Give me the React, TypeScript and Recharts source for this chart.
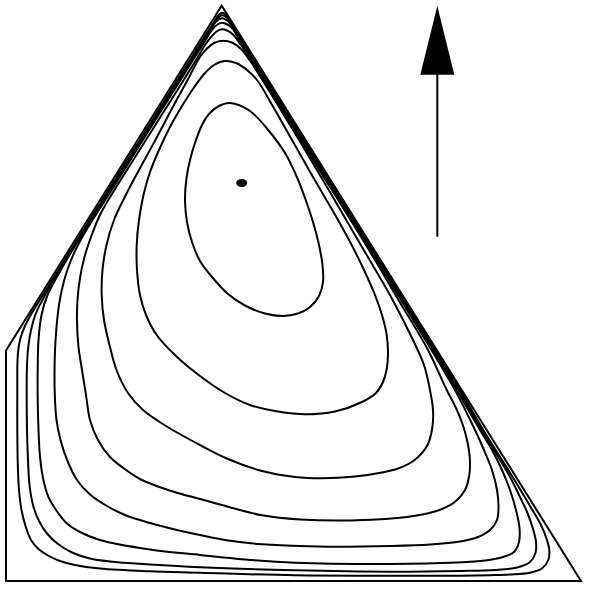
import React from 'react';
import { ComposedChart, Line, Area, Scatter, XAxis, YAxis } from 'recharts';

// Coordinates are in the plot's own units: x to the right, y upward, frame 0..576.
const boundary = [[0, 230.5], [215.7, 575.3], [575, 0], [0, 0]];

const contour1 = [
  [224, 478], [244, 470], [263, 450], [279, 428], [290, 406], [299, 383], [307, 359], [313, 336],
  [316.5, 316], [317, 299], [313, 285], [304, 274], [292, 267.5], [277, 265], [259, 267.5], [239, 275.5],
  [222, 287], [206, 304], [194, 320], [186, 339], [181, 359], [179, 381], [180.5, 403], [184.5, 423],
  [190, 441], [196, 456], [203, 467], [212, 474.5],
];

const contour2 = [
  [218.3, 520], [230, 518], [241, 511], [251, 501], [269, 471], [286, 441], [303, 411], [317.5, 386],
  [332, 361], [345.7, 336], [358, 311], [369, 286], [376, 266], [380.7, 246], [382, 226], [380.5, 211],
  [377, 199], [370, 188], [356, 179], [329, 169.5], [299, 166.7], [272, 169.5], [244, 176], [219, 188],
  [194, 205], [170, 225], [150.7, 246], [140, 266], [134, 286], [131, 311], [130.7, 336], [133, 361],
  [137.5, 386], [144, 409], [153, 431], [164, 454], [176, 475], [189, 495], [199, 508], [208, 516],
];

const contour3 = [
  [217, 540.3], [226, 538.5], [235, 532], [243.6, 521], [284, 456], [325.7, 386], [356, 334], [384, 286],
  [407, 241], [418, 216], [424, 191], [427, 171], [426.3, 153], [421, 135], [408, 120.5], [392, 112.5],
  [376, 108.5], [349, 104.5], [316, 102.7], [289, 104], [256, 110], [222, 122], [194, 136], [160, 155],
  [137, 171], [122, 188], [110.5, 211], [103.5, 236], [98, 261], [95.7, 286], [96.5, 311], [100.5, 336],
  [108, 361], [119.3, 385], [133, 411], [149.4, 441], [165.2, 471], [181.6, 501], [194, 524],
  [201, 532.5], [208, 538],
];

const contour4 = [
  [215.7, 551.7], [221, 550.5], [227, 546.5], [235, 536], [244.6, 521], [269.6, 481], [300.8, 431],
  [329, 386], [363, 331], [392.5, 281], [422, 231], [440.7, 191], [450, 173], [456.5, 157], [461, 141],
  [463.8, 123], [463.3, 106], [459, 91], [450, 80], [436, 72], [419, 67], [394, 63.2], [344, 60.5],
  [294, 61.5], [256, 65.7], [222, 74.2], [194, 82], [171, 88.2], [152, 94.5], [134, 102], [118, 112.5],
  [104, 124], [92, 141], [84, 161], [80, 186], [76, 211], [72.5, 234], [71, 259], [71.5, 281], [74, 303],
  [78.5, 324], [85, 344], [93.5, 365], [102.3, 381], [133.6, 431], [165.1, 481], [190.1, 521], [199, 536],
  [206, 545], [210.5, 549.5],
];

const contour5 = [
  [215.7, 558.3], [221.5, 556.5], [227, 552], [233.3, 541], [270.8, 481], [302, 431], [333.2, 381],
  [364.3, 331], [395, 281], [425.5, 231], [449, 191], [469, 151], [478, 131], [486, 111], [491, 91],
  [492.5, 74], [491, 61], [484, 51], [472, 44], [454, 39.5], [424, 36.5], [384, 35], [322, 34.3],
  [256, 36.7], [222, 40.5], [194, 46], [169, 51.5], [144, 58], [119, 66], [101, 75], [84, 86.5],
  [71, 101], [61.5, 120], [54.5, 141], [50.5, 161], [49, 181], [48.5, 206], [49, 231], [50.5, 254],
  [53, 276], [56.5, 294], [62, 313], [70, 332], [81, 352], [99.3, 381], [130.6, 431], [162, 481],
  [187, 521], [199.6, 541], [204.5, 549], [209.5, 555],
];

const contour6 = [
  [215.7, 562.7], [220.5, 561], [224.5, 557], [228, 551], [271.8, 481], [334.2, 381], [396.7, 281],
  [450.7, 191], [474, 151], [486, 131], [496, 111], [504, 91], [510, 71], [513.5, 53], [513, 39],
  [508, 29], [497, 24], [479, 20.5], [451, 18.5], [384, 17], [289, 18.3], [239, 21.5], [194, 26],
  [144, 31.5], [94, 41], [74, 49], [60.7, 57.7], [50, 71], [42.3, 84.3], [37, 103], [34, 124.3],
  [32.5, 151], [31.7, 181], [31.7, 211], [32.5, 241], [35.5, 266], [41.5, 286], [52, 306], [66.5, 331],
  [98, 381], [129.4, 431], [160.9, 481], [186, 521], [204.6, 551], [209.5, 559],
];

const contour7 = [
  [215.7, 565.7], [219.5, 564.5], [223, 561], [226, 556], [272.6, 481], [335, 381], [397.5, 281],
  [452.3, 191], [475.7, 151], [491, 126], [503.5, 105], [513.5, 85], [521.5, 68], [527, 52], [530, 39],
  [529.5, 28], [524, 19], [511, 13.5], [489, 11], [454, 10], [384, 9.3], [289, 10.7], [194, 13.7],
  [144, 16.5], [104, 19.5], [84, 22.5], [66, 28.5], [52, 37], [41, 47.5], [33, 60], [27, 76],
  [23.5, 96], [22, 121], [21, 151], [20.7, 181], [21, 216], [22.5, 236], [25.5, 253], [30, 268],
  [36.5, 281], [44.5, 296], [59.7, 321], [97.2, 381], [128.4, 431], [160, 481], [185, 521],
  [206.8, 556], [211, 562],
];

const contour8 = [
  [215.7, 568.3], [219, 567], [222, 563], [223.8, 560], [273.1, 481], [335.5, 381], [398, 281],
  [454, 191], [477.3, 151], [508.5, 101], [524, 75], [535, 56], [541, 41], [543.3, 31], [542.3, 21],
  [536, 12.5], [524, 8.3], [504, 6.5], [484, 5.8], [454, 5.3], [384, 5.3], [289, 5.7], [194, 8.3],
  [144, 9.7], [94, 12.5], [69, 16], [54, 20], [42, 25.5], [32.5, 32], [25, 41], [19.5, 55], [15.5, 71],
  [13, 91], [11.8, 116], [11.3, 151], [11.3, 191], [11.5, 221], [12.5, 233], [14.5, 243], [18.5, 254],
  [24.7, 266], [33.8, 281], [46.3, 301], [96.3, 381], [127.6, 431], [159, 481], [184, 521],
  [208, 559], [212, 565],
];

const contours = [contour1, contour2, contour3, contour4, contour5, contour6, contour7, contour8];

const equilibrium = [[235.7, 398]];
const arrowShaft = [[431.3, 344.3], [431.3, 507]];
const arrowHead = [[414.3, 506.3], [431.3, 575], [448.3, 506.3]];

const toPts = (a: number[][]) => a.map(([x, y]) => ({ x, y }));

// Closed centripetal Catmull-Rom curve factory (smooth closed loop through the points).
const closedCatmull = (context: any) => {
  let pts: number[][] = [];
  return {
    areaStart() {},
    areaEnd() {},
    lineStart() {
      pts = [];
    },
    point(x: number, y: number) {
      pts.push([+x, +y]);
    },
    lineEnd() {
      const n = pts.length;
      if (n < 3) return;
      const dist = (a: number[], b: number[]) => Math.hypot(a[0] - b[0], a[1] - b[1]);
      context.moveTo(pts[0][0], pts[0][1]);
      for (let i = 0; i < n; i++) {
        const p0 = pts[(i - 1 + n) % n];
        const p1 = pts[i];
        const p2 = pts[(i + 1) % n];
        const p3 = pts[(i + 2) % n];
        const l01a = Math.sqrt(dist(p0, p1));
        const l12a = Math.sqrt(dist(p1, p2));
        const l23a = Math.sqrt(dist(p2, p3));
        const l01 = l01a * l01a;
        const l12 = l12a * l12a;
        const l23 = l23a * l23a;
        let x1 = p1[0], y1 = p1[1], x2 = p2[0], y2 = p2[1];
        if (l01a > 1e-6) {
          const a = 2 * l01 + 3 * l01a * l12a + l12;
          const nn = 3 * l01a * (l01a + l12a);
          x1 = (x1 * a - p0[0] * l12 + p2[0] * l01) / nn;
          y1 = (y1 * a - p0[1] * l12 + p2[1] * l01) / nn;
        }
        if (l23a > 1e-6) {
          const b = 2 * l23 + 3 * l23a * l12a + l12;
          const m = 3 * l23a * (l23a + l12a);
          x2 = (x2 * b + p1[0] * l23 - p3[0] * l12) / m;
          y2 = (y2 * b + p1[1] * l23 - p3[1] * l12) / m;
        }
        context.bezierCurveTo(x1, y1, x2, y2, p2[0], p2[1]);
      }
      context.closePath();
    },
  };
};

const EquilibriumDot = (props: any) => {
  const { cx, cy } = props;
  return <ellipse cx={cx} cy={cy} rx={5.5} ry={4} fill="#000" />;
};

export default function App() {
  return (
    <div style={{ position: 'absolute', left: 0, top: 0, width: 590, height: 590, background: '#fff' }}>
      <ComposedChart width={590} height={590} margin={{ top: 5, right: 8, bottom: 9, left: 6 }}>
        <XAxis type="number" dataKey="x" domain={[0, 576]} hide />
        <YAxis type="number" dataKey="y" domain={[0, 576]} hide />
        <Line
          data={toPts(boundary)}
          dataKey="y"
          type="linearClosed"
          stroke="#000"
          strokeWidth={2}
          dot={false}
          activeDot={false}
          isAnimationActive={false}
        />
        {contours.map((c, i) => (
          <Line
            key={i}
            data={toPts(c)}
            dataKey="y"
            type={closedCatmull as any}
            stroke="#000"
            strokeWidth={2}
            dot={false}
            activeDot={false}
            isAnimationActive={false}
          />
        ))}
        <Line
          data={toPts(arrowShaft)}
          dataKey="y"
          type="linear"
          stroke="#000"
          strokeWidth={2}
          dot={false}
          activeDot={false}
          isAnimationActive={false}
        />
        <Area
          data={toPts(arrowHead)}
          dataKey="y"
          type="linear"
          baseValue={506.3}
          stroke="none"
          fill="#000"
          fillOpacity={1}
          dot={false}
          activeDot={false}
          isAnimationActive={false}
        />
        <Scatter data={toPts(equilibrium)} dataKey="y" shape={EquilibriumDot} isAnimationActive={false} />
      </ComposedChart>
    </div>
  );
}
